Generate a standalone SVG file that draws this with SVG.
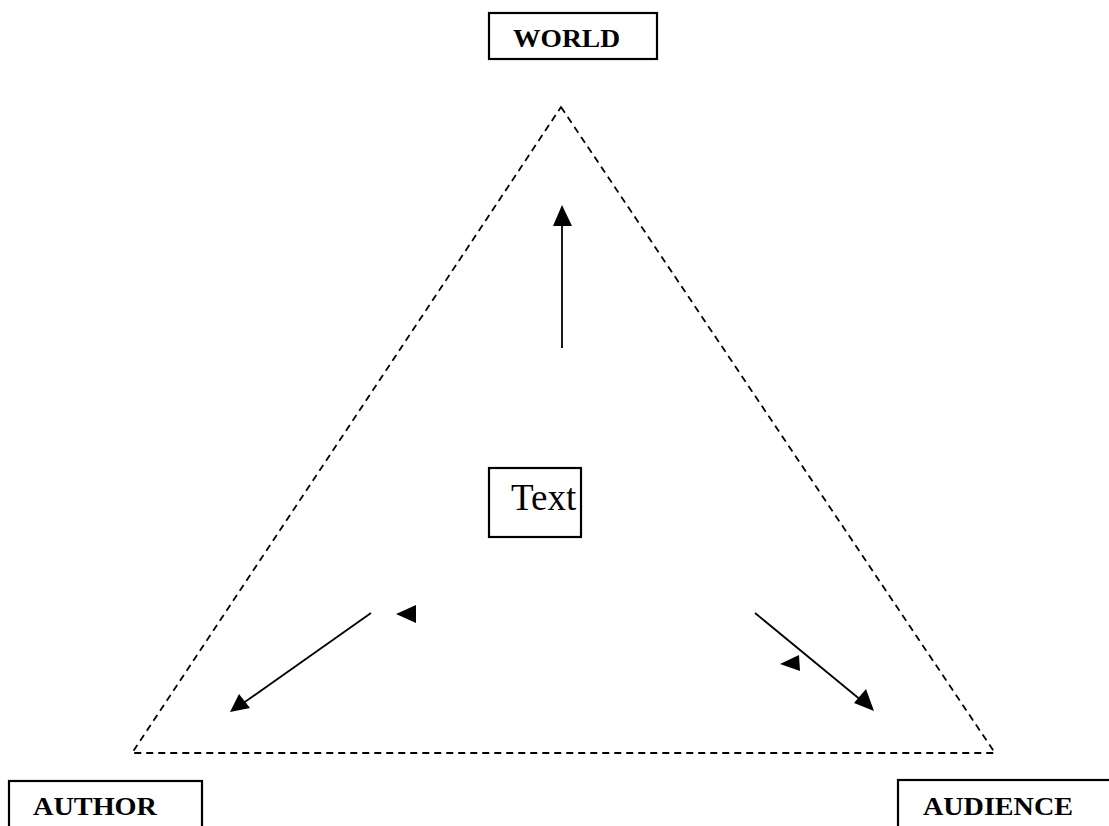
<svg xmlns="http://www.w3.org/2000/svg" width="1109" height="826" viewBox="0 0 1109 826">
<defs>
<style>
.box{fill:#fff;stroke:#000;stroke-width:2.2}
.lbl{font-family:"Liberation Serif","Times New Roman",serif;font-weight:bold;font-size:26px;fill:#000}
.tri{fill:none;stroke:#000;stroke-width:1.8;stroke-dasharray:7 5}
.ln{stroke:#000;stroke-width:1.8;fill:none}
</style>
</defs>
<rect width="1109" height="826" fill="#fff"/>
<g id="triangle"><path class="tri" d="M561,107 L995,753 L132,753 Z"/></g>
<g id="connectors">
<line class="ln" x1="562" y1="348" x2="562" y2="220"/>
<path d="M562,205 L572,226 L553,226 Z" fill="#000"/>
<line class="ln" x1="371" y1="613" x2="242" y2="704"/>
<path d="M230,712 L239,694 L250,708 Z" fill="#000"/>
<path d="M396,614 L416,605 L416,623 Z" fill="#000"/>
<line class="ln" x1="755" y1="613" x2="862" y2="701"/>
<path d="M874,711 L854,703 L866,689 Z" fill="#000"/>
<path d="M780,664 L799,655 L800,671 Z" fill="#000"/>
</g>
<g id="world"><rect class="box" x="489" y="13" width="168" height="46"/><text class="lbl" x="513" y="47" textLength="107" lengthAdjust="spacingAndGlyphs">WORLD</text></g>
<g id="text"><rect class="box" x="489" y="468" width="92" height="69"/><text x="511" y="510" font-family="Liberation Serif,Times New Roman,serif" font-size="37" fill="#000">Text</text></g>
<g id="author"><rect class="box" x="9" y="781" width="193" height="60"/><text class="lbl" x="33" y="815" textLength="124" lengthAdjust="spacingAndGlyphs">AUTHOR</text></g>
<g id="audience"><rect class="box" x="898" y="780" width="230" height="60"/><text class="lbl" x="923" y="815" textLength="150" lengthAdjust="spacingAndGlyphs">AUDIENCE</text></g>
</svg>
